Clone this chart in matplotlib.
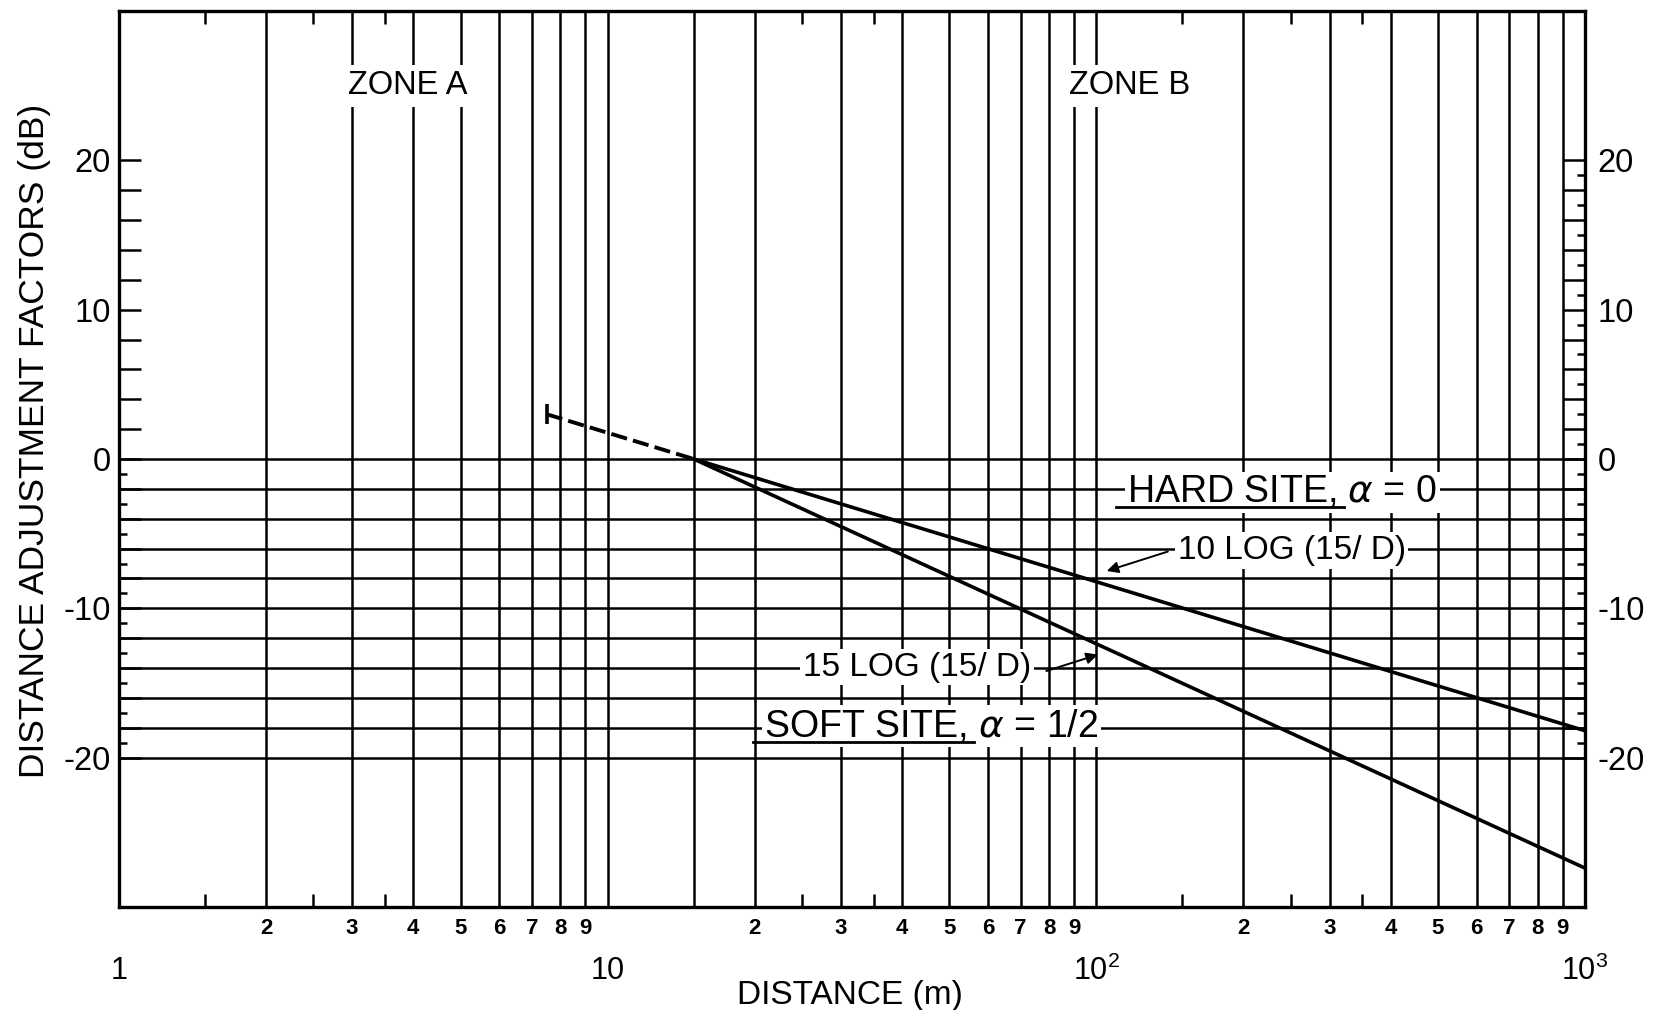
import matplotlib.pyplot as plt
import matplotlib.ticker as mticker
from matplotlib.lines import Line2D

plt.rcParams['font.family'] = ['Liberation Sans', 'DejaVu Sans']
plt.rcParams['mathtext.fontset'] = 'dejavusans'

# values
hard_d = [15, 1000]
hard_db = [0, -18.2]
soft_d = [15, 1000]
soft_db = [0, -27.4]
ext_d = [7.5, 15]
ext_db = [3.0, 0]

decades = [1, 10, 100]
digits = [2, 3, 4, 5, 6, 7, 8, 9]
zone_edge = 15
major_x = [1, 10, 100, 1000]
major_x_labels = ['1', '10', r'$\mathregular{10^2}$', r'$\mathregular{10^3}$']
short_x = [1.5, 2.5, 3.5, 25, 35, 150, 250, 350]

y_ticks = list(range(-20, 21, 2))
y_labels = [str(v) if v % 10 == 0 else '' for v in y_ticks]
left_odd = list(range(-19, 0, 2))
right_odd = list(range(-19, 20, 2))
grid_db = list(range(-20, 1, 2))

minor_x = [d * m for d in decades for m in digits] + [zone_edge]
minor_x_labels = [str(m) for d in decades for m in digits] + ['']

fig = plt.figure(figsize=(16.61, 10.10), dpi=100)
ax = fig.add_axes([0.0716, 0.102, 0.8827, 0.8871])
ax.set_xscale('log')
ax.set_xlim(1, 1000)
ax.set_ylim(-30, 30)

ax.xaxis.set_major_locator(mticker.FixedLocator(major_x))
ax.xaxis.set_major_formatter(mticker.FixedFormatter(major_x_labels))
ax.xaxis.set_minor_locator(mticker.FixedLocator(minor_x))
ax.xaxis.set_minor_formatter(mticker.FixedFormatter(minor_x_labels))
ax.tick_params(axis='x', which='major', length=0, pad=35, labelsize=22)
ax.tick_params(axis='x', which='minor', length=0, pad=8, labelsize=16)
for lab in ax.xaxis.get_minorticklabels():
    lab.set_fontweight('bold')
ax.grid(True, which='both', axis='x', color='black', lw=1.8)

ax.yaxis.set_major_locator(mticker.FixedLocator(y_ticks))
ax.yaxis.set_major_formatter(mticker.FixedFormatter(y_labels))
ax.yaxis.set_minor_locator(mticker.FixedLocator(left_odd))
ax.tick_params(axis='y', which='major', direction='in', length=16, width=1.8,
               pad=6, labelsize=23.5)
ax.tick_params(axis='y', which='minor', direction='in', length=6, width=1.8)

ax.hlines(grid_db, 1, 1000, color='black', lw=1.8, zorder=1)

for s in ax.spines.values():
    s.set_linewidth(2.4)

# right-hand scale
axr = ax.twinx()
axr.set_ylim(-30, 30)
axr.yaxis.set_major_locator(mticker.FixedLocator(y_ticks))
axr.yaxis.set_major_formatter(mticker.FixedFormatter(y_labels))
axr.yaxis.set_minor_locator(mticker.FixedLocator(right_odd))
axr.tick_params(axis='y', which='major', direction='in', length=16, width=1.8,
                pad=9, labelsize=23.5)
axr.tick_params(axis='y', which='minor', direction='in', length=6, width=1.8)
for s in axr.spines.values():
    s.set_visible(False)

# short ticks on top and bottom
axt = ax.twiny()
axt.set_xscale('log')
axt.set_xlim(1, 1000)
axt.xaxis.set_major_locator(mticker.FixedLocator(short_x))
axt.xaxis.set_minor_locator(mticker.NullLocator())
axt.tick_params(axis='x', which='major', direction='in', length=9.5, width=1.8,
                top=True, bottom=True, labeltop=False, labelbottom=False)
for s in axt.spines.values():
    s.set_visible(False)

# curves
ax.plot(hard_d, hard_db, color='black', lw=2.6, zorder=3)
ax.plot(soft_d, soft_db, color='black', lw=2.6, zorder=3)
ax.plot(ext_d, ext_db, color='black', lw=2.8, ls=(0, (4.2, 1.6)), zorder=3)
ax.plot(ext_d[:1], ext_db[:1], marker='|', ms=15, mew=2.6, color='black', zorder=3)

box = dict(facecolor='white', edgecolor='none', pad=2)
zone_box = dict(facecolor='white', edgecolor='none', pad=4)
ax.text(3.9, 25.0, 'ZONE A', fontsize=23.5, ha='center', va='center',
        bbox=zone_box, zorder=4)
ax.text(117, 25.0, 'ZONE B', fontsize=23.5, ha='center', va='center',
        bbox=zone_box, zorder=4)

site_size = 27
hard_t = ax.text(240, -2.9, r'HARD SITE, $\alpha$ = 0', fontsize=site_size,
                 ha='center', va='baseline', bbox=box, zorder=4)
soft_t = ax.text(46, -18.6, r'SOFT SITE, $\alpha$ = 1/2', fontsize=site_size,
                 ha='center', va='baseline', bbox=box, zorder=4)
ax.text(251, -6.7, '10 LOG (15/ D)', fontsize=24, ha='center', va='baseline',
        bbox=box, zorder=4)
ax.text(43, -14.5, '15 LOG (15/ D)', fontsize=24, ha='center', va='baseline',
        bbox=box, zorder=4)

arrow = dict(arrowstyle='-|>', color='black', lw=1.4, mutation_scale=17,
             shrinkA=0, shrinkB=0)
ax.annotate('', xy=(105, -7.5), xytext=(140, -6.2), arrowprops=arrow, zorder=4)
ax.annotate('', xy=(100.7, -13.1), xytext=(79, -14.2), arrowprops=arrow, zorder=4)

fig.text(0.0205, 0.563, 'DISTANCE ADJUSTMENT FACTORS (dB)', rotation=90,
         ha='center', va='center', fontsize=25.5)
fig.text(0.512, 0.006, 'DISTANCE (m)', ha='center', va='baseline', fontsize=24)

# underline the site names
fig.canvas.draw()
r = fig.canvas.get_renderer()
inv = fig.transFigure.inverted()
for t, part, x, y in [(hard_t, 'HARD SITE,', 240, -2.9), (soft_t, 'SOFT SITE,', 46, -18.6)]:
    bb = t.get_window_extent(r)
    tmp = ax.text(x, y, part, fontsize=site_size)
    w = tmp.get_window_extent(r).width
    tmp.remove()
    base = ax.transData.transform((x, y))[1]
    p0 = inv.transform((bb.x0 - 11, base - 5))
    p1 = inv.transform((bb.x0 + w + 6, base - 5))
    fig.add_artist(Line2D([p0[0], p1[0]], [p0[1], p1[1]], color='black', lw=2.0))

fig.savefig('out.png', dpi=100)
